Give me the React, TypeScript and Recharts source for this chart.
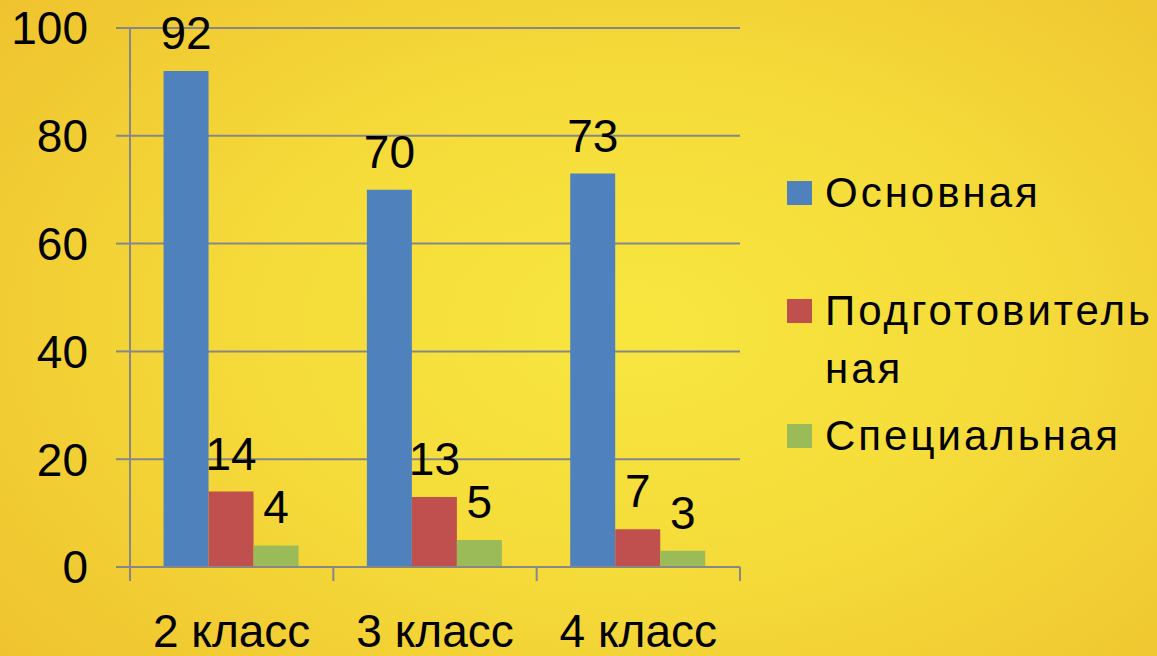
import React from "react";
import { BarChart, Bar, XAxis, YAxis, CartesianGrid, Legend, LabelList } from "recharts";

const categories = ["2 класс", "3 класс", "4 класс"];
const osnovnaya = [92, 70, 73];
const podgotovitelnaya = [14, 13, 7];
const specialnaya = [4, 5, 3];
const yTicks = [0, 20, 40, 60, 80, 100];

const data = categories.map((c, i) => ({
  cat: c,
  osn: osnovnaya[i],
  pod: podgotovitelnaya[i],
  spec: specialnaya[i],
}));

const W = 1157;
const H = 656;
const Y_AXIS_W = 130;
const RIGHT = 417;
const X_AXIS_H = 89;
const PLOT_W = W - Y_AXIS_W - RIGHT;
const BAND = PLOT_W / categories.length;

const GRAY = "#878787";
const FONT = "'Liberation Sans', Arial, sans-serif";

const COLORS = {
  blue: "#4f81bd",
  red: "#c0504d",
  green: "#9bbb59",
};

// category label + tick marks on the category boundaries (Office style)
const CatTick = (props: any) => {
  const { x, y, payload, index } = props;
  const left = x - BAND / 2;
  const right = x + BAND / 2;
  return (
    <g>
      <line x1={left} y1={y} x2={left} y2={y + 14} stroke={GRAY} strokeWidth={2} />
      {index === categories.length - 1 && (
        <line x1={right} y1={y} x2={right} y2={y + 14} stroke={GRAY} strokeWidth={2} />
      )}
      <text x={x} y={y + 80} textAnchor="middle" fontSize={46} fill="#000" fontFamily={FONT}>
        {payload.value}
      </text>
    </g>
  );
};

// spacing before each legend entry
const legendGaps = [0, 60, 9];

const renderLegend = (props: any) => {
  const { payload } = props;
  return (
    <div style={{ fontFamily: FONT }}>
      {payload.map((entry: any, i: number) => (
        <div key={i} style={{ display: "flex", alignItems: "flex-start", marginTop: legendGaps[i] }}>
          <span style={{ width: 25, height: 24, marginTop: 17, background: entry.color, flex: "none" }} />
          <span
            style={{
              marginLeft: 13,
              fontSize: 42,
              letterSpacing: 3,
              lineHeight: "58px",
              color: "#000",
              maxWidth: 340,
            }}
          >
            {entry.value}
          </span>
        </div>
      ))}
    </div>
  );
};

export default function App() {
  return (
    <div
      style={{
        position: "absolute",
        left: 0,
        top: 0,
        width: W,
        height: H,
        overflow: "hidden",
        fontFamily: FONT,
        background:
          "radial-gradient(ellipse 70% 80% at 55% 50%, #f8e63f 0%, #f5dc3a 45%, #efc32f 100%)",
      }}
    >
      <BarChart
        width={W}
        height={H}
        data={data}
        margin={{ top: 28, right: RIGHT, bottom: 0, left: 0 }}
        barCategoryGap="16.5%"
        barGap={0}
      >
        <CartesianGrid vertical={false} stroke={GRAY} strokeWidth={2} />
        <YAxis
          width={Y_AXIS_W}
          domain={[0, 100]}
          ticks={yTicks}
          interval={0}
          axisLine={{ stroke: GRAY, strokeWidth: 2 }}
          tickLine={{ stroke: GRAY, strokeWidth: 2 }}
          tickSize={14}
          tickMargin={28}
          tick={{ fontSize: 46, fill: "#000", fontFamily: FONT }}
        />
        <XAxis
          dataKey="cat"
          height={X_AXIS_H}
          axisLine={{ stroke: GRAY, strokeWidth: 2 }}
          tickLine={false}
          tickSize={0}
          tickMargin={0}
          interval={0}
          tick={<CatTick />}
        />
        <Legend
          layout="vertical"
          align="center"
          verticalAlign="middle"
          content={renderLegend}
          wrapperStyle={{ left: 787, top: 164, width: 370 }}
        />
        <Bar dataKey="osn" name="Основная" fill={COLORS.blue} isAnimationActive={false}>
          <LabelList dataKey="osn" position="top" offset={22} fontSize={46} fill="#000" fontFamily={FONT} />
        </Bar>
        <Bar dataKey="pod" name={"Подготовитель\u200bная"} fill={COLORS.red} isAnimationActive={false}>
          <LabelList dataKey="pod" position="top" offset={22} fontSize={46} fill="#000" fontFamily={FONT} />
        </Bar>
        <Bar dataKey="spec" name="Специальная" fill={COLORS.green} isAnimationActive={false}>
          <LabelList dataKey="spec" position="top" offset={22} fontSize={46} fill="#000" fontFamily={FONT} />
        </Bar>
      </BarChart>
    </div>
  );
}
